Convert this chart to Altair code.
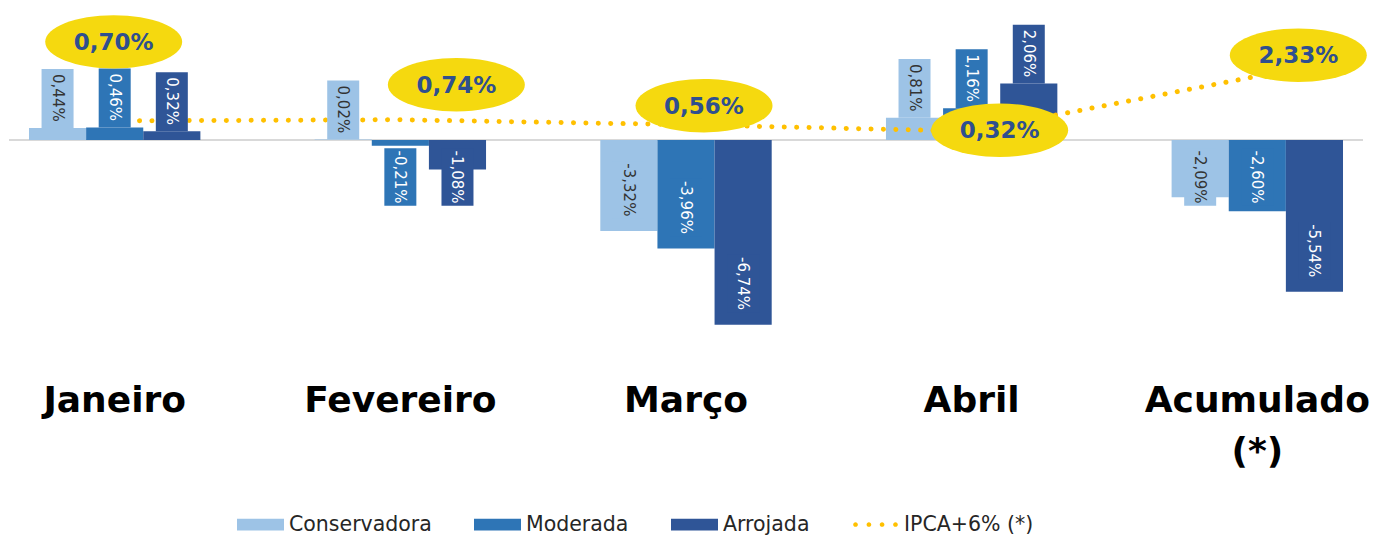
import altair as alt
import pandas as pd

# ---------------- data ----------------
months = ["Janeiro", "Fevereiro", "Março", "Abril", "Acumulado"]
series = ["Conservadora", "Moderada", "Arrojada"]
conservadora = [0.44, 0.02, -3.32, 0.81, -2.09]
moderada = [0.46, -0.21, -3.96, 1.16, -2.60]
arrojada = [0.32, -1.08, -6.74, 2.06, -5.54]
ipca_name = "IPCA+6% (*)"
ipca = [0.70, 0.74, 0.56, 0.32, 2.33]

# ---------------- styling ----------------
colors = ["#9DC3E6", "#2E75B6", "#2F5597", "#FFC000"]
ellipse_fill = "#F5D90F"
ellipse_text = "#2F4F8F"
# pixel nudges of the yellow annotation ellipses relative to their line point
ellipse_nudge = [(-1, -79), (56, -35), (18, -19), (28, -1), (41, -21)]


def pt(v):
    return f"{v:.2f}".replace(".", ",") + "%"


rows = []
for s, vals in zip(series, [conservadora, moderada, arrojada]):
    for m, v in zip(months, vals):
        rows.append({"month": m, "series": s, "value": v, "label": pt(v)})
bars_df = pd.DataFrame(rows)
line_df = pd.DataFrame({"month": months, "ipca": ipca, "label": [pt(v) for v in ipca]})
legend_df = pd.DataFrame({"series": series + [ipca_name]})

x_scale = alt.Scale(domain=months, paddingInner=0.4, paddingOuter=0.07)
y_scale = alt.Scale(domain=[-7.3, 4.82], nice=False)
xoff_scale = alt.Scale(domain=series, paddingInner=0, paddingOuter=0)
fill_scale = alt.Scale(domain=series, range=colors[:3])
color_scale = alt.Scale(domain=series + [ipca_name], range=colors)

x_axis = alt.Axis(
    title=None, labelFont="DejaVu Sans", labelFontSize=36, labelFontWeight="bold",
    labelColor="#000000", labelPadding=43, ticks=False, tickSize=0, domain=False,
    grid=False, labelAngle=0, labelLineHeight=51, labelLimit=400, labelOverlap=False,
    labelExpr="datum.value == 'Acumulado' ? ['Acumulado', '(*)'] : datum.label",
)


def X():
    return alt.X("month:N", scale=x_scale, sort=months, axis=x_axis)


def XO():
    return alt.XOffset("series:N", scale=xoff_scale, sort=series)


base = alt.Chart(bars_df)

rule = alt.Chart(line_df).mark_rule(color="#D9D9D9", strokeWidth=1.5).encode(
    y=alt.YDatum(0, axis=None, scale=y_scale)
)

bars = base.mark_bar().encode(
    x=X(), xOffset=XO(),
    y=alt.Y("value:Q", scale=y_scale, axis=None),
    fill=alt.Fill("series:N", scale=fill_scale, legend=None),
)

calc = base.transform_calculate(
    lc="datum.value >= 0 ? datum.value + 1.1 : min(datum.value + 1.5, -1.35)"
).transform_calculate(
    blo="datum.value >= 0 ? datum.value : datum.lc - 1.05",
    bhi="datum.value >= 0 ? datum.lc + 1.05 : min(datum.lc + 1.05, 0)",
)

boxes = calc.mark_bar(size=32).encode(
    x=X(), xOffset=XO(),
    y=alt.Y("blo:Q", scale=y_scale, axis=None), y2="bhi:Q",
    fill=alt.Fill("series:N", scale=fill_scale, legend=None),
)

texts = calc.mark_text(angle=90, font="DejaVu Sans", fontSize=15, align="center",
                       baseline="middle").encode(
    x=X(), xOffset=XO(),
    y=alt.Y("lc:Q", scale=y_scale, axis=None),
    text="label:N",
    fill=alt.condition(alt.datum.series == "Conservadora",
                       alt.value("#333333"), alt.value("#FFFFFF")),
)

line = alt.Chart(line_df).mark_line(
    color=colors[3], strokeWidth=5, strokeDash=[0.1, 12.3], strokeCap="round"
).encode(x=X(), y=alt.Y("ipca:Q", scale=y_scale, axis=None))

ellipse_path = "M -1 0 A 1 0.39 0 1 1 1 0 A 1 0.39 0 1 1 -1 0 Z"
ann_layers = []
for m, (dx, dy) in zip(months, ellipse_nudge):
    src = alt.Chart(line_df).transform_filter(alt.datum.month == m)
    ann_layers.append(src.mark_point(
        shape=ellipse_path, size=137 * 137, filled=True, fill=ellipse_fill,
        opacity=1, strokeWidth=0, xOffset=dx, yOffset=dy,
    ).encode(x=X(), y=alt.Y("ipca:Q", scale=y_scale, axis=None)))
    ann_layers.append(src.mark_text(
        font="DejaVu Sans", fontSize=23, fontWeight="bold", color=ellipse_text,
        dx=dx, dy=dy + 1, align="center", baseline="middle",
    ).encode(x=X(), y=alt.Y("ipca:Q", scale=y_scale, axis=None), text="label:N"))

rect_path = "M -1 -0.25 L 1 -0.25 L 1 0.25 L -1 0.25 Z"
dots_path = ("M -0.95 0 a 0.1 0.1 0 1 0 0.2 0 a 0.1 0.1 0 1 0 -0.2 0 Z "
             "M -0.38 0 a 0.1 0.1 0 1 0 0.2 0 a 0.1 0.1 0 1 0 -0.2 0 Z "
             "M 0.18 0 a 0.1 0.1 0 1 0 0.2 0 a 0.1 0.1 0 1 0 -0.2 0 Z "
             "M 0.75 0 a 0.1 0.1 0 1 0 0.2 0 a 0.1 0.1 0 1 0 -0.2 0 Z")


def leg():
    return alt.Legend(
        title=None, orient="none", legendX=228, legendY=493, direction="horizontal",
        symbolSize=47 * 47, symbolStrokeWidth=0, labelFont="DejaVu Sans",
        labelFontSize=20.5, labelColor="#262626", labelOffset=5, columnPadding=42,
        padding=0, labelLimit=300,
    )


legend_layer = alt.Chart(legend_df).mark_point(
    filled=True, opacity=1, size=0
).encode(
    color=alt.Color("series:N", scale=color_scale, legend=leg()),
    shape=alt.Shape("series:N", scale=alt.Scale(domain=series + [ipca_name],
                    range=[rect_path, rect_path, rect_path, dots_path]), legend=leg()),
)

chart = alt.layer(rule, bars, line, boxes, texts, *ann_layers, legend_layer).properties(
    width=1354, height=332, padding=0
).configure_view(stroke=None)

chart.save("out.html", embed_options={"renderer": "svg", "actions": False})
